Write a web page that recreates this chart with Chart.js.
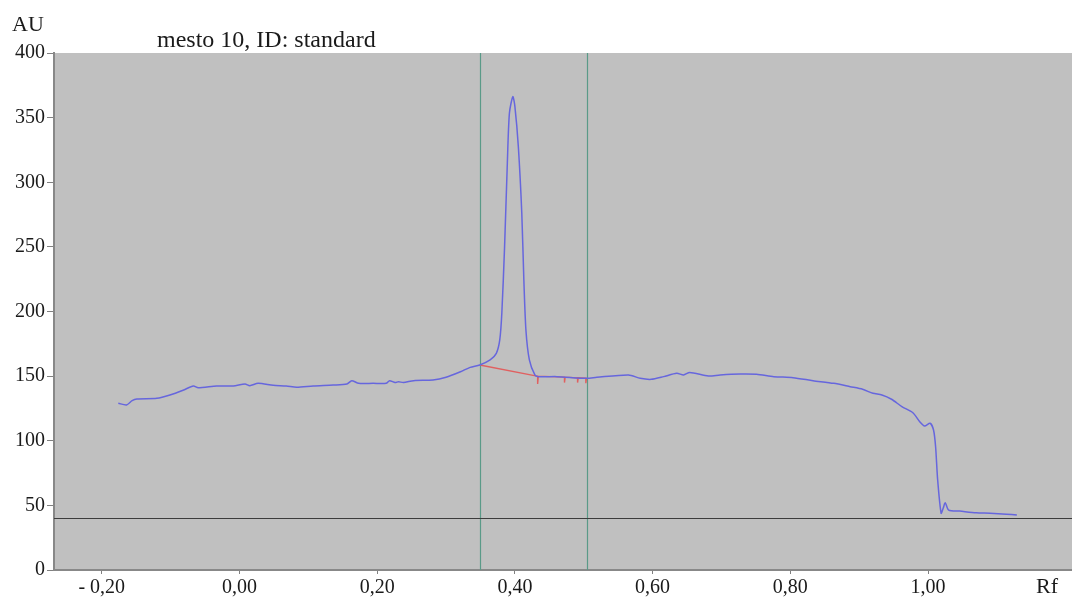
<!DOCTYPE html>
<html>
<head>
<meta charset="utf-8">
<script src="https://cdn.jsdelivr.net/npm/chart.js@4/dist/chart.umd.min.js"></script>
<style>
    html, body { margin: 0; padding: 0; background: #fff; }
</style>
</head>
<body>
<canvas id="chart" width="1072" height="598"></canvas>
<script>
'use strict';

// денситограмма: Rf и сигнал AU
const rfTrace = [
    -0.176, -0.164, -0.156, -0.149, -0.120, -0.101, -0.081, -0.067, -0.060, -0.033,
    -0.009, 0.008, 0.015, 0.027, 0.049, 0.068, 0.083, 0.107, 0.136, 0.156,
    0.163, 0.173, 0.194, 0.213, 0.218, 0.226, 0.231, 0.238, 0.253, 0.281,
    0.300, 0.321, 0.335, 0.349, 0.364, 0.373, 0.378, 0.381, 0.385, 0.389,
    0.392, 0.397, 0.400, 0.405, 0.410, 0.413, 0.416, 0.421, 0.429, 0.434,
    0.461, 0.504, 0.519, 0.565, 0.582, 0.598, 0.616, 0.635, 0.645, 0.654,
    0.681, 0.698, 0.727, 0.751, 0.776, 0.804, 0.833, 0.863, 0.887, 0.905,
    0.920, 0.933, 0.947, 0.962, 0.978, 0.988, 0.995, 1.003, 1.008, 1.011,
    1.014, 1.019, 1.022, 1.025, 1.030, 1.046, 1.070, 1.090, 1.114, 1.129
];
const auTrace = [
    129, 127.7, 131, 132.3, 132.8, 135.4, 139.3, 142.4, 141, 142.4,
    142.4, 143.9, 142.6, 144.4, 142.9, 142.4, 141.4, 142.4, 143.1, 143.9,
    146.5, 144.4, 144.4, 144.4, 146.5, 145, 145.7, 145, 146.5, 147,
    149.1, 153.4, 156.8, 158.6, 162.5, 167.6, 178, 198.6, 250, 314.7,
    353.4, 366.2, 358.5, 327.5, 276, 224.4, 185.7, 162.5, 150.9, 149.6,
    149.6, 148.3, 149.1, 150.9, 148.3, 147.5, 149.6, 152.2, 150.9, 152.9,
    150.1, 150.9, 151.6, 151.4, 149.6, 148.8, 146.5, 144.4, 141.8, 139.8,
    136.7, 135.4, 132.1, 126.4, 121.7, 114.7, 111.4, 113.5, 108.3, 95.4,
    69.6, 43.9, 47.7, 52.1, 46.4, 45.6, 44.3, 43.9, 43.1, 42.6
];

// базовая линия пика (красная) с засечками
const baseRf = [0.349, 0.432, 0.433, 0.433, 0.434, 0.472, 0.472, 0.473, 0.491, 0.491, 0.492, 0.503, 0.503, 0.504];
const baseAu = [158.6, 150, 150, 144, 150, 149.2, 145, 149.2, 148.7, 145, 148.7, 148.4, 144.5, 148.3];

// границы интегрирования и уровень отсечки
const markerRf = [0.349, 0.504];
const cutLevel = 40;

const xTicks = [-0.2, 0, 0.2, 0.4, 0.6, 0.8, 1.0];
const yTicks = [0, 50, 100, 150, 200, 250, 300, 350, 400];

const titleText = 'mesto 10, ID: standard';
const FONT = '"Liberation Serif", "Times New Roman", serif';

function fmtRf(v) {
    let s = Math.abs(v).toFixed(2).replace('.', ',');
    return v < 0 ? '- ' + s : s;
}

const backdrop = {
    id: 'backdrop',
    beforeDraw(chart) {
        const { ctx, chartArea: a } = chart;
        ctx.save();
        ctx.fillStyle = '#c0c0c0';
        ctx.fillRect(a.left, a.top, a.right - a.left, a.bottom - a.top);
        ctx.restore();
    },
    beforeDatasetsDraw(chart) {
        const { ctx, chartArea: a, scales } = chart;
        ctx.save();
        // вертикальные маркеры
        ctx.strokeStyle = '#5a9a88';
        ctx.lineWidth = 1.2;
        for (let r of markerRf) {
            let x = Math.round(scales.x.getPixelForValue(r)) + 0.5;
            ctx.beginPath();
            ctx.moveTo(x, a.top);
            ctx.lineTo(x, a.bottom);
            ctx.stroke();
        }
        // уровень отсечки
        let y = Math.round(scales.y.getPixelForValue(cutLevel)) + 0.5;
        ctx.strokeStyle = '#3c3c3c';
        ctx.lineWidth = 1;
        ctx.beginPath();
        ctx.moveTo(a.left, y);
        ctx.lineTo(a.right, y);
        ctx.stroke();
        ctx.restore();
    },
    afterDraw(chart) {
        const ctx = chart.ctx;
        ctx.save();
        ctx.fillStyle = '#1a1a1a';
        ctx.textBaseline = 'alphabetic';
        ctx.font = '22px ' + FONT;
        ctx.fillText('AU', 12, 31);
        ctx.font = '24px ' + FONT;
        ctx.fillText(titleText, 157, 47);
        ctx.font = '22px ' + FONT;
        ctx.fillText('Rf', 1036, 593);
        ctx.restore();
    },
};

const ctx = document.getElementById('chart').getContext('2d');
new Chart(ctx, {
    type: 'line',
    data: {
        datasets: [
            {
                data: rfTrace.map((r, i) => ({ x: r, y: auTrace[i] })),
                borderColor: '#6666dd',
                borderWidth: 1.5,
                pointRadius: 0,
                tension: 0.25,
            },
            {
                data: baseRf.map((r, i) => ({ x: r, y: baseAu[i] })),
                borderColor: '#e06060',
                borderWidth: 1.4,
                pointRadius: 0,
                tension: 0,
            },
        ],
    },
    options: {
        responsive: false,
        animation: false,
        devicePixelRatio: 1,
        layout: { padding: { top: 53, right: 0, left: 0, bottom: 0 } },
        plugins: { legend: { display: false }, tooltip: { enabled: false } },
        scales: {
            x: {
                type: 'linear',
                min: -0.2694,
                max: 1.2091,
                afterFit(scale) { scale.height = 28; },
                afterBuildTicks(scale) { scale.ticks = xTicks.map((v) => ({ value: v })); },
                grid: { drawOnChartArea: false, tickLength: 4, color: '#808080' },
                border: { display: true, color: '#888', width: 2 },
                ticks: {
                    padding: 2,
                    maxRotation: 0,
                    autoSkip: false,
                    color: '#1a1a1a',
                    font: { family: FONT, size: 20 },
                    callback: (v) => fmtRf(v),
                },
            },
            y: {
                min: 0,
                max: 400,
                afterFit(scale) { scale.width = 54; },
                afterBuildTicks(scale) { scale.ticks = yTicks.map((v) => ({ value: v })); },
                grid: { drawOnChartArea: false, tickLength: 7, color: '#808080' },
                border: { display: true, color: '#888', width: 2 },
                ticks: {
                    padding: 2,
                    color: '#1a1a1a',
                    font: { family: FONT, size: 20 },
                },
            },
        },
    },
    plugins: [backdrop],
});
</script>
</body>
</html>
